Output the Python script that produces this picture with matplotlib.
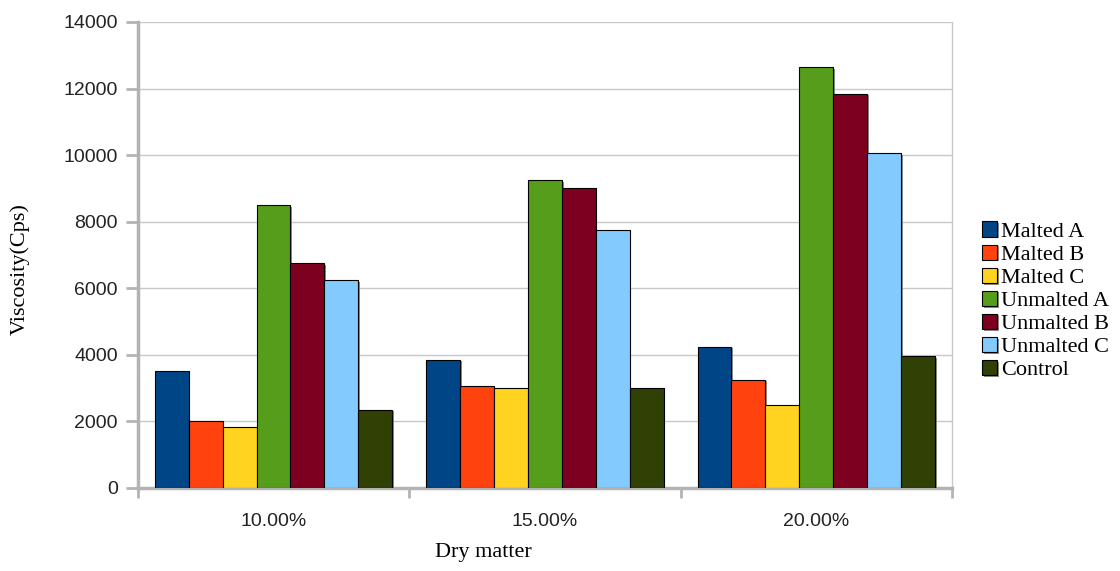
import numpy as np
import matplotlib.pyplot as plt
from matplotlib.patheffects import SimplePatchShadow, Normal

# viscosity (Cps) at each dry matter level
dry_matter = ['10.00%', '15.00%', '20.00%']
series = ['Malted A', 'Malted B', 'Malted C', 'Unmalted A',
          'Unmalted B', 'Unmalted C', 'Control']
malted_a = [3500, 3850, 4250]
malted_b = [2000, 3050, 3250]
malted_c = [1830, 3000, 2500]
unmalted_a = [8500, 9250, 12650]
unmalted_b = [6750, 9000, 11850]
unmalted_c = [6250, 7750, 10050]
control = [2350, 3000, 3950]
colors = ['#004586', '#ff420e', '#ffd320', '#579d1c',
          '#7e0021', '#83caff', '#314004']

values = [malted_a, malted_b, malted_c, unmalted_a,
          unmalted_b, unmalted_c, control]

fig = plt.figure(figsize=(11.2, 5.71), dpi=100)
ax = fig.add_axes([0.123, 0.1454, 0.727, 0.8161])

n = len(series)
w = 1.0 / (n + 1)
x = np.arange(len(dry_matter))
shadow = [SimplePatchShadow(offset=(1.2, -1.2), shadow_rgbFace='#808080', alpha=0.9), Normal()]
for k in range(n):
    pos = x - 0.5 + w / 2 + w * (k + 0.5)
    bars = ax.bar(pos, values[k], width=w, color=colors[k], edgecolor='black',
                  linewidth=0.8, label=series[k], zorder=3)
    for b in bars:
        b.set_path_effects(shadow)

ax.set_xlim(-0.5, len(dry_matter) - 0.5)
ax.set_ylim(0, 14000)
ax.set_yticks(np.arange(0, 14001, 2000))
ax.yaxis.grid(True, color='#c8c8c8', linewidth=1.0, zorder=0)
ax.set_axisbelow(True)

# boundaries get the tick marks, category names sit in between
ax.set_xticks(np.arange(-0.5, len(dry_matter)))
ax.set_xticklabels([])
ax.set_xticks(x, minor=True)
ax.set_xticklabels(dry_matter, minor=True)
ax.tick_params(axis='x', which='minor', length=0, pad=18)
ax.tick_params(axis='x', which='major', length=7.5, width=2, color='#b3b3b3')
ax.tick_params(axis='y', length=8.5, width=2, color='#b3b3b3', pad=5.8)
for lbl in ax.get_yticklabels() + ax.get_xticklabels(minor=True):
    lbl.set_fontfamily('Liberation Sans')
    lbl.set_fontsize(14)
    lbl.set_color('#222222')

for s in ['left', 'bottom']:
    ax.spines[s].set_color('#b3b3b3')
    ax.spines[s].set_linewidth(2.5)
ax.spines['top'].set_visible(False)
ax.spines['right'].set_color('#c8c8c8')
ax.spines['right'].set_linewidth(1.0)

ax.set_ylabel('Viscosity(Cps)', family='Liberation Serif', fontsize=16)
ax.yaxis.set_label_coords(-0.133, 0.47)
ax.set_xlabel('Dry matter', family='Liberation Serif', fontsize=16)
ax.xaxis.set_label_coords(0.424, -0.118)

leg = fig.legend(loc='center left', bbox_to_anchor=(0.877, 0.473), frameon=False,
                 prop={'family': 'Liberation Serif', 'size': 16},
                 handlelength=0.68, handleheight=0.68, handletextpad=0.15,
                 labelspacing=0.12, borderpad=0, borderaxespad=0)

fig.savefig('out.png', dpi=100)
